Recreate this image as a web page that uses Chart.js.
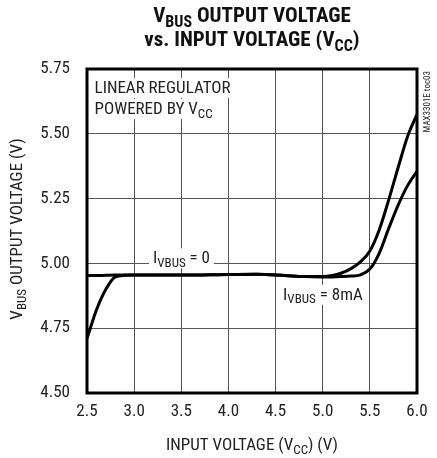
<!DOCTYPE html>
<html>
<head>
<meta charset="utf-8">
<script src="https://cdn.jsdelivr.net/npm/chart.js@4/dist/chart.umd.min.js"></script>
<style>
  html, body { margin: 0; padding: 0; background: #fff; }
  canvas { display: block; }
</style>
</head>
<body>
<canvas id="chart" width="437" height="458"></canvas>
<script>
// input voltage (Vcc) points
const vcc = [2.5, 2.6, 2.7, 2.8, 2.9, 3.0, 3.5, 4.0, 4.3, 4.6, 4.8, 5.0, 5.1, 5.2, 5.3, 5.4, 5.5, 5.6, 5.7, 5.8, 5.9, 6.0];
// IVBUS = 0
const vbusNoLoad = [4.953, 4.953, 4.954, 4.955, 4.955, 4.955, 4.955, 4.957, 4.958, 4.953, 4.949, 4.949, 4.953, 4.963, 4.98, 5.006, 5.048, 5.13, 5.245, 5.37, 5.49, 5.575];
// IVBUS = 8mA
const vbus8mA = [4.71, 4.82, 4.90, 4.948, 4.954, 4.955, 4.955, 4.957, 4.958, 4.953, 4.949, 4.948, 4.948, 4.949, 4.951, 4.956, 4.978, 5.04, 5.135, 5.225, 5.30, 5.355];

const xTicks = [2.5, 3.0, 3.5, 4.0, 4.5, 5.0, 5.5, 6.0];
const yTicks = [4.5, 4.75, 5.0, 5.25, 5.5, 5.75];

const FONT = '"Liberation Sans Narrow", "Arial Narrow", "Roboto Condensed", "Liberation Sans", sans-serif';

// draws text made of [string, isSubscript] parts
function drawParts(ctx, parts, x, y, size, weight, align) {
  const sub = Math.round(size * 0.78);
  let total = 0;
  parts.forEach(([t, s]) => {
    ctx.font = `${weight} ${s ? sub : size}px ${FONT}`;
    total += ctx.measureText(t).width;
  });
  let cx = align === 'center' ? x - total / 2 : x;
  ctx.textAlign = 'left';
  ctx.textBaseline = 'alphabetic';
  parts.forEach(([t, s]) => {
    ctx.font = `${weight} ${s ? sub : size}px ${FONT}`;
    ctx.fillText(t, cx, s ? y + size * 0.22 : y);
    cx += ctx.measureText(t).width;
  });
  return total;
}

const labels = [
  { x: 2.58, y: 5.657, parts: [['LINEAR REGULATOR', false]] },
  { x: 2.58, y: 5.576, parts: [['POWERED BY V', false], ['CC', true]] },
  { x: 3.2, y: 5.0, parts: [['I', false], ['VBUS', true], [' = 0', false]] },
  { x: 4.58, y: 4.86, parts: [['I', false], ['VBUS', true], [' = 8mA', false]] }
];

const decor = {
  id: 'decor',
  beforeDatasetsDraw(chart) {
    const { ctx, scales: { x, y } } = chart;
    ctx.save();
    labels.forEach(l => {
      const px = x.getPixelForValue(l.x);
      const py = y.getPixelForValue(l.y);
      const w = drawParts(ctx, l.parts, -1000, -1000, 17, 'normal', 'left');
      ctx.fillStyle = '#fff';
      ctx.fillRect(px - 4, py - 15, w + 8, 20);
      ctx.fillStyle = '#222';
      drawParts(ctx, l.parts, px, py, 17, 'normal', 'left');
    });
    ctx.restore();
  },
  afterDatasetsDraw(chart) {
    const { ctx, chartArea: a } = chart;
    ctx.save();
    ctx.strokeStyle = '#000';
    ctx.lineWidth = 3;
    ctx.strokeRect(a.left, a.top, a.right - a.left, a.bottom - a.top);
    ctx.restore();
  },
  afterDraw(chart) {
    const { ctx, chartArea: a } = chart;
    const cx = (a.left + a.right) / 2;
    ctx.save();
    ctx.fillStyle = '#111';
    drawParts(ctx, [['V', false], ['BUS', true], [' OUTPUT VOLTAGE', false]], cx, 22, 21, 'bold', 'center');
    drawParts(ctx, [['vs. INPUT VOLTAGE (V', false], ['CC', true], [')', false]], cx, 46, 21, 'bold', 'center');
    ctx.fillStyle = '#222';
    drawParts(ctx, [['INPUT VOLTAGE (V', false], ['CC', true], [') (V)', false]], cx, 450, 17, 'normal', 'center');
    ctx.save();
    ctx.translate(22, (a.top + a.bottom) / 2 - 2);
    ctx.rotate(-Math.PI / 2);
    drawParts(ctx, [['V', false], ['BUS', true], [' OUTPUT VOLTAGE (V)', false]], 0, 0, 17, 'normal', 'center');
    ctx.restore();
    ctx.translate(430, a.top + 2);
    ctx.rotate(-Math.PI / 2);
    ctx.font = `9px ${FONT}`;
    ctx.textAlign = 'right';
    ctx.textBaseline = 'alphabetic';
    ctx.fillText('MAX3301E toc03', 0, 0);
    ctx.restore();
  }
};

new Chart(document.getElementById('chart'), {
  type: 'line',
  data: {
    datasets: [
      {
        label: 'IVBUS = 0',
        data: vcc.map((v, i) => ({ x: v, y: vbusNoLoad[i] })),
        borderColor: '#000',
        borderWidth: 3,
        pointRadius: 0,
        cubicInterpolationMode: 'monotone'
      },
      {
        label: 'IVBUS = 8mA',
        data: vcc.map((v, i) => ({ x: v, y: vbus8mA[i] })),
        borderColor: '#000',
        borderWidth: 3,
        pointRadius: 0,
        cubicInterpolationMode: 'monotone'
      }
    ]
  },
  options: {
    responsive: false,
    animation: false,
    devicePixelRatio: 1,
    layout: { padding: { top: 69, right: 20, left: 0, bottom: 0 } },
    plugins: { legend: { display: false }, tooltip: { enabled: false } },
    scales: {
      x: {
        type: 'linear',
        min: 2.5,
        max: 6.0,
        afterBuildTicks: s => { s.ticks = xTicks.map(v => ({ value: v })); },
        afterFit: s => { s.height = 65; },
        ticks: {
          callback: v => v.toFixed(1),
          font: { family: FONT, size: 17 },
          color: '#222',
          padding: 9,
          maxRotation: 0
        },
        grid: { color: '#555', lineWidth: 1, drawTicks: false },
        border: { display: false }
      },
      y: {
        min: 4.5,
        max: 5.75,
        afterBuildTicks: s => { s.ticks = yTicks.map(v => ({ value: v })); },
        afterFit: s => { s.width = 87; },
        ticks: {
          callback: v => v.toFixed(2),
          font: { family: FONT, size: 17 },
          color: '#222',
          padding: 17
        },
        grid: { color: '#555', lineWidth: 1, drawTicks: false },
        border: { display: false }
      }
    }
  },
  plugins: [decor]
});
</script>
</body>
</html>
